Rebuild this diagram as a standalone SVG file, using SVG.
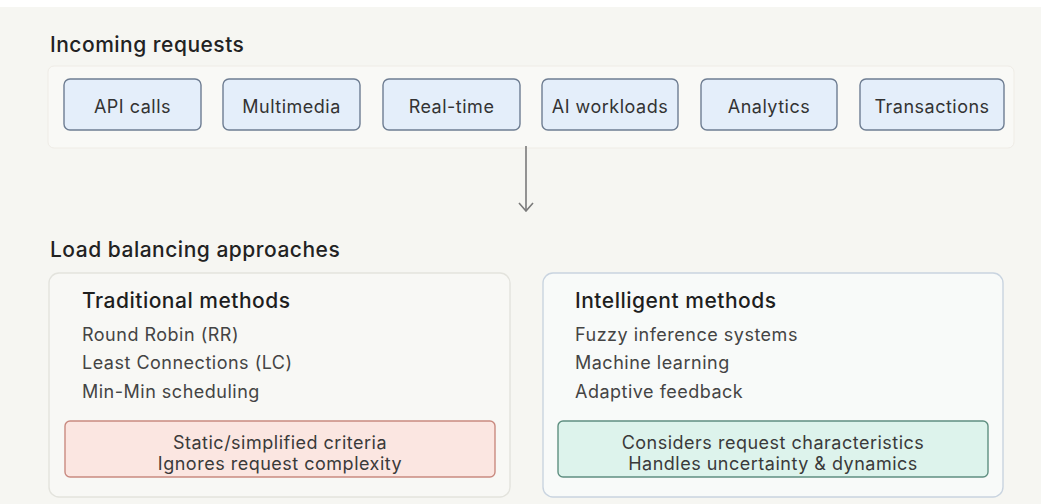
<svg xmlns="http://www.w3.org/2000/svg" width="1041" height="504" viewBox="0 0 1041 504">
  <defs>
    <marker id="arr" viewBox="0 0 12 16" refX="11" refY="8" markerWidth="12" markerHeight="16" markerUnits="userSpaceOnUse" orient="auto">
      <path d="M3,1 L11,8 L3,15" fill="none" stroke="#7a7a7a" stroke-width="1.6"/>
    </marker>
    <style>
      .sec{font-family:Inter,"Noto Sans",sans-serif;font-size:21px;font-weight:500;letter-spacing:0.5px;fill:#222}
      .req rect{fill:#e4eefa;stroke:#6e7d92;stroke-width:1.4}
      .req text{font-family:Inter,"Noto Sans",sans-serif;font-size:18px;letter-spacing:0.5px;fill:#333;text-anchor:middle}
      .hd{font-family:Inter,"Noto Sans",sans-serif;font-size:21px;font-weight:500;letter-spacing:0.5px;fill:#1e1e1e}
      .it{font-family:Inter,"Noto Sans",sans-serif;font-size:18px;letter-spacing:0.5px;fill:#444}
      .note{font-family:Inter,"Noto Sans",sans-serif;font-size:18px;letter-spacing:0.5px;fill:#3a3a3a;text-anchor:middle}
    </style>
  </defs>
  <rect x="0" y="0" width="1041" height="504" fill="#ffffff"/>
  <rect x="0" y="7" width="1041" height="497" fill="#f6f6f2"/>

  <g id="incoming">
    <text class="sec" x="50" y="52">Incoming requests</text>
    <rect x="48" y="66" width="966" height="82" rx="6" fill="#f9f9f6" stroke="#efece6" stroke-width="1"/>
  </g>
  <g id="req-api" class="req"><rect x="64" y="79" width="137" height="51" rx="6"/><text x="132.5" y="113">API calls</text></g>
  <g id="req-multimedia" class="req"><rect x="223" y="79" width="137" height="51" rx="6"/><text x="291.5" y="113">Multimedia</text></g>
  <g id="req-realtime" class="req"><rect x="383" y="79" width="137" height="51" rx="6"/><text x="451.5" y="113">Real-time</text></g>
  <g id="req-ai" class="req"><rect x="542" y="79" width="136" height="51" rx="6"/><text x="610" y="113">AI workloads</text></g>
  <g id="req-analytics" class="req"><rect x="701" y="79" width="136" height="51" rx="6"/><text x="769" y="113">Analytics</text></g>
  <g id="req-transactions" class="req"><rect x="860" y="79" width="144" height="51" rx="6"/><text x="932" y="113">Transactions</text></g>

  <g id="connectors">
    <line x1="526" y1="146" x2="526" y2="211" stroke="#7a7a7a" stroke-width="1.6" marker-end="url(#arr)"/>
  </g>

  <g id="approaches">
    <text class="sec" x="50" y="257">Load balancing approaches</text>
  </g>

  <g id="traditional">
    <rect x="49" y="273" width="461" height="224" rx="10" fill="#f8f8f5" stroke="#e3e3dd" stroke-width="1.4"/>
    <text class="hd" x="82" y="308">Traditional methods</text>
    <text class="it" x="82" y="341">Round Robin (RR)</text>
    <text class="it" x="82" y="369">Least Connections (LC)</text>
    <text class="it" x="82" y="398">Min-Min scheduling</text>
  </g>
  <g id="traditional-note">
    <rect x="65" y="421" width="430" height="56" rx="5" fill="#fbe6e1" stroke="#c98a80" stroke-width="1.4"/>
    <text class="note" x="280" y="449">Static/simplified criteria</text>
    <text class="note" x="280" y="470">Ignores request complexity</text>
  </g>

  <g id="intelligent">
    <rect x="543" y="273" width="460" height="224" rx="10" fill="#f8faf9" stroke="#c9d4e0" stroke-width="1.4"/>
    <text class="hd" x="575" y="308">Intelligent methods</text>
    <text class="it" x="575" y="341">Fuzzy inference systems</text>
    <text class="it" x="575" y="369">Machine learning</text>
    <text class="it" x="575" y="398">Adaptive feedback</text>
  </g>
  <g id="intelligent-note">
    <rect x="558" y="421" width="430" height="56" rx="5" fill="#ddf3ec" stroke="#5f8f81" stroke-width="1.4"/>
    <text class="note" x="773" y="449">Considers request characteristics</text>
    <text class="note" x="773" y="470">Handles uncertainty &amp; dynamics</text>
  </g>
</svg>
